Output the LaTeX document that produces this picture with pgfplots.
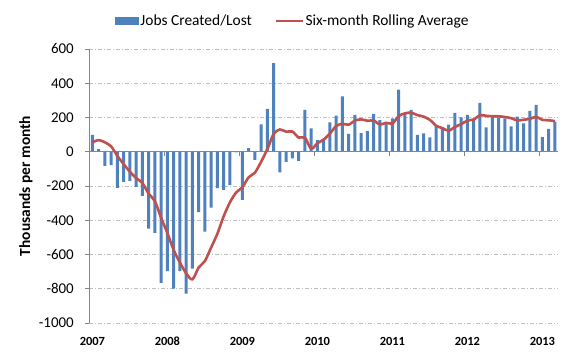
\documentclass[border=0pt]{standalone}
\usepackage{fontspec}
\setmainfont{Carlito}
\usepackage{pgfplots}
\pgfplotsset{compat=1.18}
\definecolor{barblue}{RGB}{79,129,189}
\definecolor{linered}{RGB}{192,80,77}
\definecolor{axgray}{RGB}{134,134,134}
\definecolor{gridgray}{RGB}{190,190,190}
\begin{document}
\begin{tikzpicture}
\useasboundingbox (-89.3bp,-33bp) rectangle (490.7bp,323bp);
\begin{axis}[
  at={(0,0)}, anchor=south west,
  scale only axis, width=468.7bp, height=274bp,
  xmin=-0.5, xmax=74.5, ymin=-1000, ymax=600,
  axis x line*=bottom, axis y line*=left,
  x axis line style={draw=none},
  y axis line style={draw=axgray, line width=0.8bp, -},
  xtick={0,12,24,36,48,60,72},
  xticklabels={2007,2008,2009,2010,2011,2012,2013},
  xtick style={draw=none},
  xticklabel style={font=\fontsize{12.5}{14}\selectfont\bfseries, anchor=north, inner sep=0pt, yshift=-9.7bp},
  ytick={-1000,-800,-600,-400,-200,0,200,400,600},
  yticklabels={-1000,-800,-600,-400,-200,0,200,400,600},
  ytick style={draw=axgray, line width=0.8bp},
  yticklabel style={font=\fontsize{15}{18}\selectfont, anchor=east, inner sep=0pt, xshift=-11.3bp},
  tick align=outside, major tick length=4bp,
  ymajorgrids, grid style={gridgray, line width=0.8bp, dash pattern=on 4bp off 2bp on 1bp off 2bp},
  ylabel={Thousands per month},
  ylabel style={at={(axis description cs:-0.135,0.5)}, anchor=center, font=\fontsize{15.5}{18}\selectfont\bfseries},
  legend style={at={(axis description cs:0.4335,1.102)}, anchor=center, draw=none, fill=none,
    legend columns=2, font=\fontsize{15.5}{18}\selectfont,
    /tikz/every even column/.append style={column sep=22bp},
    nodes={inner sep=1bp}},
]
\addplot[ybar, bar width=0.5, fill=barblue, draw=none,
  legend image code/.code={\fill[barblue] (0bp,-3.7bp) rectangle (24bp,3.7bp);}]
coordinates {
(0,98) (1,15) (2,-82) (3,-78) (4,-211) (5,-176) (6,-170) (7,-205) (8,-258) (9,-449)
(10,-473) (11,-766) (12,-697) (13,-799) (14,-697) (15,-828) (16,-682) (17,-352) (18,-467) (19,-326)
(20,-213) (21,-223) (22,-195) (23,-3) (24,-281) (25,21) (26,-47) (27,160) (28,250) (29,518)
(30,-121) (31,-59) (32,-39) (33,-53) (34,244) (35,137) (36,68) (37,68) (38,172) (39,211)
(40,324) (41,104) (42,215) (43,109) (44,121) (45,221) (46,184) (47,162) (48,195) (49,363)
(50,221) (51,244) (52,98) (53,107) (54,84) (55,156) (56,137) (57,158) (58,227) (59,201)
(60,215) (61,191) (62,285) (63,143) (64,205) (65,201) (66,195) (67,148) (68,205) (69,166)
(70,238) (71,273) (72,86) (73,133) (74,176)
};
\addlegendentry{Jobs Created/Lost}
\draw[axgray, line width=0.9bp] (axis cs:-0.5,0) -- (axis cs:74.5,0);
\pgfplotsinvokeforeach{11.5,23.5,35.5,47.5,59.5,71.5}{
  \draw[axgray, line width=0.9bp] (axis cs:#1,0) -- ([yshift=-4bp]axis cs:#1,0);
}
\addplot[linered, line width=2.6bp, smooth, no markers,
  legend image code/.code={\draw[linered, line width=2.6bp] (0bp,0bp) -- (27bp,0bp);}]
coordinates {
(0,55) (1,68) (2,55) (3,31) (4,-25) (5,-72) (6,-117) (7,-154) (8,-183) (9,-245)
(10,-289) (11,-387) (12,-475) (13,-574) (14,-647) (15,-710) (16,-745) (17,-676) (18,-638) (19,-559)
(20,-478) (21,-377) (22,-296) (23,-238) (24,-207) (25,-149) (26,-122) (27,-58) (28,16) (29,104)
(30,130) (31,117) (32,118) (33,83) (34,82) (35,18) (36,50) (37,71) (38,106) (39,150)
(40,163) (41,158) (42,182) (43,189) (44,181) (45,182) (46,159) (47,169) (48,165) (49,208)
(50,224) (51,228) (52,214) (53,205) (54,186) (55,152) (56,138) (57,123) (58,145) (59,161)
(60,182) (61,188) (62,213) (63,210) (64,207) (65,207) (66,203) (67,196) (68,183) (69,187)
(70,192) (71,204) (72,186) (73,184) (74,179)
};
\addlegendentry{Six-month Rolling Average}
\end{axis}
\end{tikzpicture}
\end{document}
